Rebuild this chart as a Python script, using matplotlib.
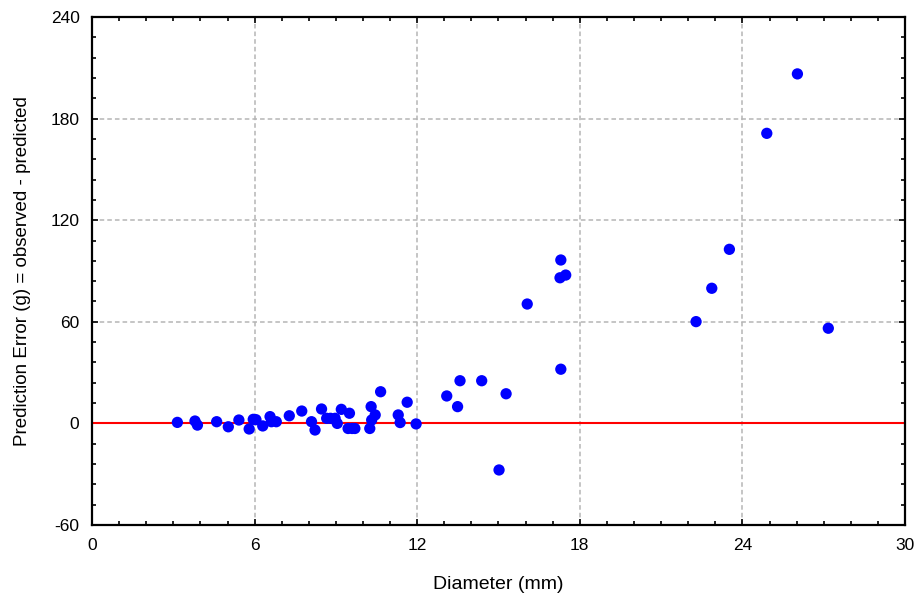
import matplotlib.pyplot as plt
import numpy as np
from matplotlib.ticker import MultipleLocator

plt.rcParams['font.family'] = ['Liberation Sans', 'DejaVu Sans']
plt.rcParams['axes.unicode_minus'] = False

# diameter (mm) and prediction error (g)
diameter = [3.15, 3.8, 3.89, 4.6, 5.03, 5.42, 5.8, 5.95, 6.05, 6.3, 6.57, 6.62,
            6.8, 7.28, 7.74, 8.1, 8.23, 8.47, 8.66, 8.8, 8.97, 9.05, 9.2,
            9.45, 9.6, 9.7, 9.5, 10.25, 10.3, 10.32, 10.45, 10.65, 11.3, 11.37,
            11.63, 11.96, 13.09, 13.49, 13.58, 14.38, 15.02, 15.28, 16.06,
            17.3, 17.27, 17.48, 17.3, 22.29, 22.87, 23.52, 24.9, 26.03, 27.17]
error = [0.6, 1.4, -1.0, 1.0, -2.0, 2.0, -3.3, 2.4, 2.2, -1.5, 4.0, 1.0,
         1.0, 4.5, 7.3, 1.0, -3.9, 8.5, 3.0, 3.0, 3.0, 0.0, 8.3,
         -3.0, -3.0, -3.0, 6.0, -3.0, 9.9, 2.0, 5.0, 18.7, 5.0, 0.5,
         12.5, -0.3, 16.2, 9.9, 25.2, 25.2, -27.5, 17.5, 70.5,
         96.5, 86.0, 87.6, 32.0, 60.1, 79.8, 102.8, 171.3, 206.4, 56.2]

fig = plt.figure(figsize=(9.19, 5.99), dpi=100)
ax = fig.add_axes([92/919, 1 - 525/599, (905-92)/919, (525-17)/599])

ax.set_xlim(0, 30)
ax.set_ylim(-60, 240)
ax.xaxis.set_major_locator(MultipleLocator(6))
ax.xaxis.set_minor_locator(MultipleLocator(1))
ax.yaxis.set_major_locator(MultipleLocator(60))
ax.yaxis.set_minor_locator(MultipleLocator(12))

ax.grid(True, which='major', linestyle=(0, (3, 2)), color='#b5b5b5', linewidth=1.1)
ax.set_axisbelow(True)

ax.axhline(0, color='#ff0000', linewidth=1.5, zorder=2)
ax.scatter(diameter, error, s=66, color='#0000ff', edgecolors='none', zorder=3)

for sp in ax.spines.values():
    sp.set_linewidth(1.6)
ax.tick_params(which='both', direction='in', top=True, right=True, width=1.2,
               labelsize=12.5, pad=9)
ax.tick_params(which='major', length=4)
ax.tick_params(which='minor', length=3)

ax.set_xlabel('Diameter (mm)', fontsize=14, labelpad=17)
ax.set_ylabel('Prediction Error (g) = observed - predicted', fontsize=13.5, labelpad=14)

plt.savefig('out.png', dpi=100)
